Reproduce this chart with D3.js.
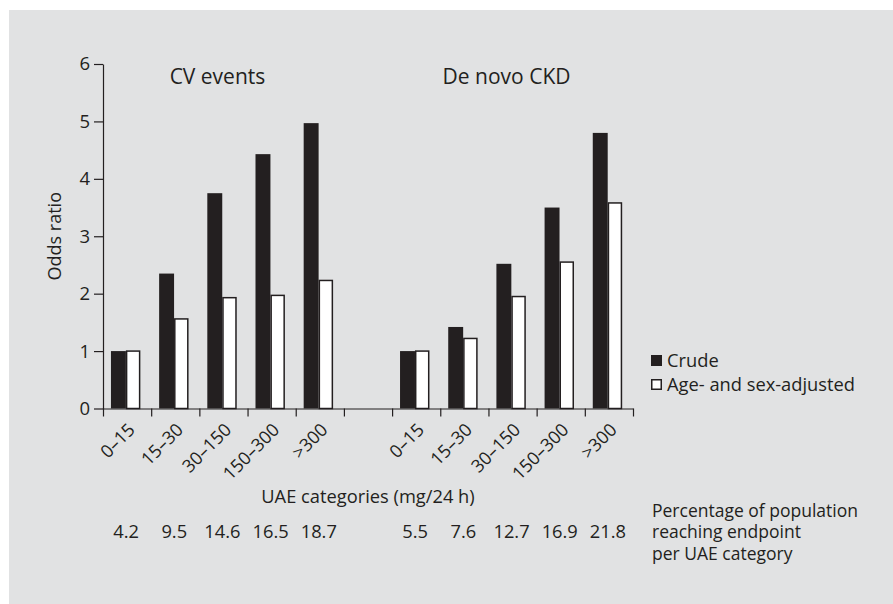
<!DOCTYPE html>
<html>
<head>
<meta charset="utf-8">
<script src="https://cdn.jsdelivr.net/npm/d3@7"></script>
<style>
  body { margin: 0; background: #fff; }
  text { font-family: "Open Sans", sans-serif; fill: #231f20; }
</style>
</head>
<body>
<div id="chart"></div>
<script>
// odds ratios per UAE category, CV events and de novo CKD

// data
const categories = ["0–15", "15–30", "30–150", "150–300", ">300"];
const cvCrude = [1.0, 2.35, 3.75, 4.43, 4.97];
const cvAdjusted = [1.0, 1.56, 1.93, 1.97, 2.23];
const ckdCrude = [1.0, 1.42, 2.52, 3.5, 4.8];
const ckdAdjusted = [1.0, 1.22, 1.95, 2.55, 3.58];
const cvPercent = ["4.2", "9.5", "14.6", "16.5", "18.7"];
const ckdPercent = ["5.5", "7.6", "12.7", "16.9", "21.8"];
const yTicks = [0, 1, 2, 3, 4, 5, 6];
const seriesNames = ["Crude", "Age- and sex-adjusted"];
const noteLines = ["Percentage of population", "reaching endpoint", "per UAE category"];

const svgWidth = 893;
const svgHeight = 604;
const ink = "#231f20";

// one slot per bar pair, with an empty slot between the two panels
const rows = [];
categories.forEach((c, i) => rows.push({ key: "cv" + i, label: c, crude: cvCrude[i], adj: cvAdjusted[i], pct: cvPercent[i] }));
rows.push({ key: "gap", label: "", crude: null, adj: null, pct: "" });
categories.forEach((c, i) => rows.push({ key: "ckd" + i, label: c, crude: ckdCrude[i], adj: ckdAdjusted[i], pct: ckdPercent[i] }));
const dataRows = rows.filter(d => d.crude !== null);

const svg = d3.select("#chart")
    .append("svg")
    .attr("width", svgWidth)
    .attr("height", svgHeight);

svg.append("rect")
    .attr("x", 9)
    .attr("y", 10)
    .attr("width", svgWidth - 9)
    .attr("height", svgHeight - 10)
    .attr("fill", "#e1e2e3");

// scales
const x = d3.scaleBand()
    .domain(rows.map(d => d.key))
    .range([103, 633]);

const xEdges = d3.scaleLinear()
    .domain([0, rows.length])
    .range(x.range());

const y = d3.scaleLinear()
    .domain([0, 6])
    .range([408.5, 64]);

const bw = x.bandwidth();

// bars
const barGroup = svg.append("g");

barGroup.selectAll(".crude")
    .data(dataRows)
    .enter()
    .append("rect")
    .attr("class", "crude")
    .attr("x", d => x(d.key) + bw * 0.165)
    .attr("y", d => y(d.crude))
    .attr("width", bw * 0.31)
    .attr("height", d => y(0) - y(d.crude))
    .attr("fill", ink);

barGroup.selectAll(".adj")
    .data(dataRows)
    .enter()
    .append("rect")
    .attr("class", "adj")
    .attr("x", d => x(d.key) + bw * 0.49)
    .attr("y", d => y(d.adj))
    .attr("width", bw * 0.27)
    .attr("height", d => y(0) - y(d.adj))
    .attr("fill", "#fff")
    .attr("stroke", ink)
    .attr("stroke-width", 1.5);

// y axis
const yAxis = svg.append("g")
    .attr("transform", `translate(${x.range()[0]}, 0)`)
    .call(d3.axisLeft(y).tickValues(yTicks).tickFormat(d3.format("d"))
        .tickSize(9).tickPadding(4).tickSizeOuter(0));

// x axis, ticks on the slot edges
const xAxis = svg.append("g")
    .attr("transform", `translate(0, ${y(0)})`)
    .call(d3.axisBottom(xEdges).tickValues(d3.range(rows.length + 1))
        .tickFormat("").tickSize(8).tickSizeOuter(0));

[yAxis, xAxis].forEach(g => {
    g.selectAll("path, line").attr("stroke", ink).attr("stroke-width", 1.2);
    g.selectAll("text").attr("fill", ink).style("font-size", "18.5px")
        .style("font-family", "'Open Sans', sans-serif");
});

// rotated category labels
svg.append("g")
    .selectAll("text")
    .data(dataRows)
    .enter()
    .append("text")
    .attr("transform", d => `translate(${x(d.key) + bw / 2 + 9}, 431) rotate(-45)`)
    .attr("text-anchor", "end")
    .style("font-size", "18px")
    .text(d => d.label);

// panel titles
const cvCenter = (x("cv0") + x("cv4") + bw) / 2;
const ckdCenter = (x("ckd0") + x("ckd4") + bw) / 2;

svg.append("text")
    .attr("x", cvCenter - 6)
    .attr("y", 84)
    .attr("text-anchor", "middle")
    .style("font-size", "21px")
    .text("CV events");

svg.append("text")
    .attr("x", ckdCenter - 6)
    .attr("y", 84)
    .attr("text-anchor", "middle")
    .style("font-size", "21px")
    .text("De novo CKD");

// axis titles
svg.append("text")
    .attr("transform", `translate(61, ${(y(0) + y(6)) / 2}) rotate(-90)`)
    .attr("text-anchor", "middle")
    .style("font-size", "18px")
    .text("Odds ratio");

svg.append("text")
    .attr("x", (x.range()[0] + x.range()[1]) / 2)
    .attr("y", 503)
    .attr("text-anchor", "middle")
    .style("font-size", "18.3px")
    .text("UAE categories (mg/24 h)");

// percentage row
svg.append("g")
    .selectAll("text")
    .data(dataRows)
    .enter()
    .append("text")
    .attr("x", d => x(d.key) + bw / 2 - 1)
    .attr("y", 538)
    .attr("text-anchor", "middle")
    .style("font-size", "18.3px")
    .text(d => d.pct);

// legend
const legend = svg.append("g")
    .attr("transform", "translate(651, 355)");

const legendItems = legend.selectAll("g")
    .data(seriesNames)
    .enter()
    .append("g")
    .attr("transform", (d, i) => `translate(0, ${i * 24})`);

legendItems.append("rect")
    .attr("x", (d, i) => i ? 0.75 : 0)
    .attr("y", (d, i) => i ? 0.75 : 0)
    .attr("width", (d, i) => i ? 9.5 : 11)
    .attr("height", (d, i) => i ? 9.5 : 11)
    .attr("fill", (d, i) => i ? "#fff" : ink)
    .attr("stroke", (d, i) => i ? ink : "none")
    .attr("stroke-width", 1.5);

legendItems.append("text")
    .attr("x", 16)
    .attr("y", 11.5)
    .style("font-size", "18.3px")
    .text(d => d);

// note beside the percentage row
svg.append("text")
    .attr("x", 652)
    .attr("y", 516.7)
    .style("font-size", "17.5px")
    .selectAll("tspan")
    .data(noteLines)
    .enter()
    .append("tspan")
    .attr("x", 652)
    .attr("dy", (d, i) => i ? 21.7 : 0)
    .text(d => d);
</script>
</body>
</html>
